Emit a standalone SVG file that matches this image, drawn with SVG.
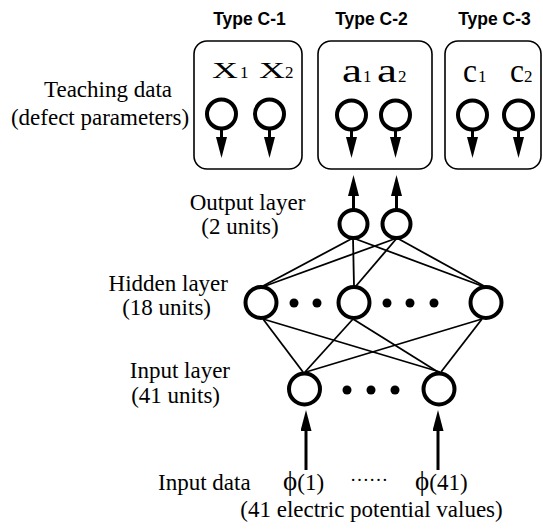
<svg xmlns="http://www.w3.org/2000/svg" width="543" height="531" viewBox="0 0 543 531">
<defs>
<marker id="ah" markerUnits="userSpaceOnUse" markerWidth="22" markerHeight="11" refX="0" refY="5.5" orient="auto">
<path d="M0,0 L21,5.5 L0,11 z" fill="#000"/>
</marker>
</defs>
<style>
.lbl{font-family:"Liberation Serif","Times New Roman",serif;font-size:23px;fill:#000}
.type{font-family:"Liberation Sans",Arial,sans-serif;font-size:17.5px;font-weight:bold;fill:#000}
.var{font-family:"Liberation Serif","Times New Roman",serif;fill:#000}
.sub{font-family:"Liberation Serif","Times New Roman",serif;font-size:17px;fill:#000}
.box{fill:none;stroke:#000;stroke-width:1.6}
.unit{fill:#fff;stroke:#000;stroke-width:4}
.dot{fill:#000}
.arr{stroke:#000;stroke-width:3;fill:none;marker-end:url(#ah)}
.link{stroke:#000;stroke-width:1.8;fill:none}
</style>
<rect width="543" height="531" fill="#fff"/>

<g id="labels">
<text class="type" x="249.5" y="25" text-anchor="middle">Type C-1</text>
<text class="type" x="371.5" y="25" text-anchor="middle">Type C-2</text>
<text class="type" x="494.5" y="25" text-anchor="middle">Type C-3</text>
<text class="lbl" x="108" y="97" text-anchor="middle">Teaching data</text>
<text class="lbl" x="100" y="125" text-anchor="middle">(defect parameters)</text>
<text class="lbl" x="247.5" y="210" text-anchor="middle">Output layer</text>
<text class="lbl" x="240" y="234" text-anchor="middle">(2 units)</text>
<text class="lbl" x="228" y="291" text-anchor="end">Hidden layer</text>
<text class="lbl" x="211" y="315" text-anchor="end">(18 units)</text>
<text class="lbl" x="230" y="378" text-anchor="end">Input layer</text>
<text class="lbl" x="220" y="403" text-anchor="end">(41 units)</text>
<text class="lbl" x="158" y="490">Input data</text>
<text class="lbl" x="283" y="490"><tspan font-size="27">ϕ</tspan>(1)</text>
<text class="lbl" x="350" y="481" font-size="19" style="font-size:19px">……</text>
<text class="lbl" x="415" y="490"><tspan font-size="27">ϕ</tspan>(41)</text>
<text class="lbl" x="371.5" y="517" text-anchor="middle">(41 electric potential values)</text>
</g>

<g id="teach-c1">
<rect class="box" x="194" y="41" width="108" height="128" rx="13"/>
<text class="var" x="212" y="78" font-size="24" textLength="26" lengthAdjust="spacingAndGlyphs">X</text>
<text class="sub" x="240" y="78">1</text>
<text class="var" x="259" y="78" font-size="24" textLength="26" lengthAdjust="spacingAndGlyphs">X</text>
<text class="sub" x="285" y="78">2</text>
<line class="arr" x1="221.5" y1="130" x2="221.5" y2="137"/>
<line class="arr" x1="269.5" y1="130" x2="269.5" y2="137"/>
<circle class="unit" cx="221.5" cy="114" r="14.5"/>
<circle class="unit" cx="269.5" cy="114" r="14.5"/>
</g>

<g id="teach-c2">
<rect class="box" x="318" y="41" width="114" height="128" rx="13"/>
<text class="var" x="342" y="82" font-size="34" textLength="20" lengthAdjust="spacingAndGlyphs">a</text>
<text class="sub" x="363" y="82">1</text>
<text class="var" x="377" y="82" font-size="34" textLength="20" lengthAdjust="spacingAndGlyphs">a</text>
<text class="sub" x="398" y="82">2</text>
<line class="arr" x1="351.5" y1="131" x2="351.5" y2="137"/>
<line class="arr" x1="395.5" y1="131" x2="395.5" y2="137"/>
<circle class="unit" cx="351.5" cy="115" r="14.5"/>
<circle class="unit" cx="395.5" cy="115" r="14.5"/>
</g>

<g id="teach-c3">
<rect class="box" x="445" y="41" width="96" height="128" rx="13"/>
<text class="var" x="463" y="82" font-size="33" textLength="14" lengthAdjust="spacingAndGlyphs">c</text>
<text class="sub" x="478" y="82">1</text>
<text class="var" x="510" y="82" font-size="33" textLength="14" lengthAdjust="spacingAndGlyphs">c</text>
<text class="sub" x="524" y="82">2</text>
<line class="arr" x1="472.5" y1="131" x2="472.5" y2="137"/>
<line class="arr" x1="518.5" y1="131" x2="518.5" y2="137"/>
<circle class="unit" cx="472.5" cy="115" r="14.5"/>
<circle class="unit" cx="518.5" cy="115" r="14.5"/>
</g>

<g id="connectors">
<line class="arr" x1="353.5" y1="210" x2="353.5" y2="196"/>
<line class="arr" x1="396.5" y1="210" x2="396.5" y2="196"/>
<line class="link" x1="353" y1="238" x2="263" y2="286"/>
<line class="link" x1="353" y1="238" x2="354" y2="286"/>
<line class="link" x1="353" y1="238" x2="482" y2="286"/>
<line class="link" x1="397" y1="238" x2="265" y2="286"/>
<line class="link" x1="397" y1="238" x2="356" y2="286"/>
<line class="link" x1="397" y1="238" x2="484" y2="286"/>
<line class="link" x1="263" y1="319" x2="303" y2="372"/>
<line class="link" x1="263" y1="319" x2="440" y2="372"/>
<line class="link" x1="353" y1="319" x2="305" y2="372"/>
<line class="link" x1="353" y1="319" x2="438" y2="372"/>
<line class="link" x1="482" y1="319" x2="306" y2="372"/>
<line class="link" x1="482" y1="319" x2="441" y2="372"/>
<line class="arr" x1="306" y1="470" x2="306" y2="431"/>
<line class="arr" x1="438" y1="470" x2="438" y2="431"/>
</g>

<g id="output-layer">
<circle class="unit" cx="353.5" cy="224" r="14"/>
<circle class="unit" cx="396.5" cy="224" r="14"/>
</g>

<g id="hidden-layer">
<circle class="unit" cx="261" cy="302.5" r="15.5"/>
<circle class="unit" cx="354" cy="302.5" r="15.5"/>
<circle class="unit" cx="486" cy="302.5" r="15.5"/>
<circle class="dot" cx="294" cy="303" r="4.5"/>
<circle class="dot" cx="317" cy="303" r="4.5"/>
<circle class="dot" cx="387" cy="303" r="4.5"/>
<circle class="dot" cx="410" cy="303" r="4.5"/>
<circle class="dot" cx="434" cy="303" r="4.5"/>
</g>

<g id="input-layer">
<circle class="unit" cx="304.5" cy="389" r="15.5"/>
<circle class="unit" cx="439" cy="389" r="15.5"/>
<circle class="dot" cx="347" cy="390" r="4.5"/>
<circle class="dot" cx="371" cy="390" r="4.5"/>
<circle class="dot" cx="395" cy="390" r="4.5"/>
</g>
</svg>
